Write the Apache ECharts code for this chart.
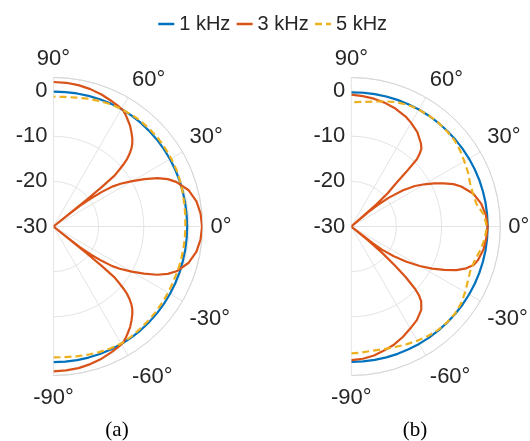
<!DOCTYPE html>
<html>
<head>
<meta charset="utf-8">
<script src="https://cdn.jsdelivr.net/npm/echarts@6/dist/echarts.min.js"></script>
<style>
html,body{margin:0;padding:0;background:#fff;}
#chart{width:530px;height:441px;}
</style>
</head>
<body>
<div id="chart"></div>
<script>
// ---- data (dB) ----
const seriesNames = ['1 kHz', '3 kHz', '5 kHz'];
const panelLabels = ['(a)', '(b)'];
const angleTicks = [-90, -60, -30, 0, 30, 60, 90];
const radiusTicks = [-30, -20, -10, 0];

const anglesCommon = [-90,-85,-80,-75,-70,-65,-60,-55,-50,-45,-40,-35,-30,-25,-20,-15,-10,-5,0,5,10,15,20,25,30,35,40,45,50,55,60,65,70,75,80,85,90];

// panel (a)
const db1kA = [0.05,0.05,0.05,0.05,0.05,0.05,0.05,0.03,0.0,-0.05,-0.1,-0.15,-0.2,-0.25,-0.3,-0.35,-0.38,-0.4,-0.4,-0.4,-0.38,-0.35,-0.3,-0.25,-0.2,-0.15,-0.1,-0.05,0.0,0.04,0.05,0.03,0.0,-0.04,-0.08,-0.12,-0.15];
const db5kA = [-1.0,-0.95,-0.8,-0.6,-0.4,-0.2,-0.05,-0.15,-0.3,-0.4,-0.5,-0.6,-0.7,-0.8,-0.8,-0.8,-0.8,-0.8,-0.8,-0.7,-0.6,-0.4,-0.2,0.0,0.1,0.2,0.3,0.3,0.3,0.2,0.05,-0.1,-0.4,-0.7,-1.0,-1.2,-1.25];
const angles3kA = [-90,-85,-80,-75,-70,-65,-62,-59.1,-57,-54.9,-52.7,-50.2,-48,-46.3,-45,-43.6,-42.5,-41.7,-41.1,-40.4,-39.8,-39.2,-39.0,-38.8,-38.5,-38,-37,-35.5,-34,-32.5,-30,-27.5,-25,-22.5,-20,-15,-10,-5,0,5,10,15,20,22.5,25,27.5,30,32.5,34,35.5,37,38,38.5,38.8,39.0,39.2,39.8,40.4,41.1,41.7,42.5,43.6,45,46.3,48,50.2,52.7,54.9,57,59.1,62,65,70,75,80,85,90];
const db3kA = [2.1,2.0,1.85,1.55,1.15,0.65,0.35,0.0,-0.6,-1.3,-2.0,-3.0,-3.9,-4.75,-5.6,-6.8,-7.9,-9.1,-10.2,-11.4,-12.5,-16.4,-20.5,-30,-25.5,-22.5,-19.8,-16.9,-14.3,-12.6,-10.0,-7.4,-4.7,-2.6,-1.0,1.0,2.15,2.7,2.9,2.7,2.15,1.0,-1.1,-2.6,-4.6,-7.3,-9.9,-12.4,-14.1,-16.7,-19.8,-22.5,-25.5,-30,-20.5,-16.4,-12.5,-11.4,-10.2,-9.1,-7.9,-6.8,-5.6,-4.75,-3.9,-3.0,-2.0,-1.3,-0.6,0.0,0.3,0.6,1.1,1.5,1.8,1.95,2.0];

// panel (b)
const db1kB = [0.0,0.0,0.0,0.0,0.01,0.02,0.03,0.04,0.05,0.06,0.08,0.1,0.12,0.14,0.16,0.18,0.2,0.2,0.2,0.2,0.2,0.18,0.16,0.13,0.1,0.06,0.03,0.0,-0.02,-0.05,-0.08,-0.12,-0.16,-0.2,-0.24,-0.27,-0.3];
const db5kB = [-1.9,-2.0,-2.1,-1.9,-1.6,-1.2,-0.8,-0.4,-0.1,0.0,0.0,-0.3,-0.9,-1.5,-1.9,-1.6,-0.9,-0.3,0.0,-0.5,-1.8,-2.1,-2.0,-1.5,-1.1,-0.6,-0.2,-0.1,0.0,0.0,-0.1,-0.3,-0.7,-1.3,-1.9,-2.3,-2.5];
const angles3kB = [-90,-85,-80,-75,-70,-65,-60,-55,-50,-47,-45.5,-44.4,-43,-41.8,-40.5,-39.5,-38.8,-38,-37,-35,-32.5,-30,-27.5,-25,-22.5,-20,-17.5,-15,-10,-5,0,5,10,15,20,22.5,25,27.5,30,32.5,35,37.5,39,40,40.5,41.3,42.5,43.9,44.8,45.7,46.8,48,50,55,60,63.3,70,75,80,85,90];
const db3kB = [-0.4,-0.6,-1.0,-1.6,-2.2,-3.0,-3.9,-4.7,-5.9,-7.3,-8.6,-10.2,-13.5,-16.9,-21,-25,-30,-24,-21.5,-18.5,-15.5,-12.5,-9.8,-7.3,-4.8,-2.9,-1.6,-1.0,-0.3,0.0,0.2,-0.1,-0.8,-2.0,-4.1,-5.5,-7.4,-9.3,-11.3,-13.3,-16.0,-19.5,-22.5,-25,-30,-22.5,-19,-16.5,-12.9,-9.2,-7.85,-6.8,-6.0,-4.5,-3.5,-2.9,-2.05,-1.6,-1.25,-1.0,-0.8];

// ---- styling ----
const colors = ['#0072BD', '#D95319', '#EDB120'];
const FONT = '"Liberation Sans", Arial, Helvetica, sans-serif';
const TXT = '#262626';
const GRID = '#e4e4e4';
const R_MAX = 3;
const RADIUS_PX = 149;

const pairs = (angles, vals) => angles.map((a, i) => [vals[i], a]);

const panels = [
  { k1: pairs(anglesCommon, db1kA), k3: pairs(angles3kA, db3kA), k5: pairs(anglesCommon, db5kA) },
  { k1: pairs(anglesCommon, db1kB), k3: pairs(angles3kB, db3kB), k5: pairs(anglesCommon, db5kB) }
];

const centers = [[53.5, 226.5], [351.3, 226.5]];
const captionPos = [[117, 430], [415, 430]];

const series = [];
panels.forEach((p, i) => {
  [p.k1, p.k3, p.k5].forEach((d, j) => {
    series.push({
      name: seriesNames[j],
      type: 'line',
      coordinateSystem: 'polar',
      polarIndex: i,
      data: d,
      symbol: 'none',
      smooth: false,
      lineStyle: { color: colors[j], width: 2.2, type: j === 2 ? [7, 4] : 'solid', join: 'round', cap: 'butt' },
      itemStyle: { color: colors[j] },
      z: 3 + j
    });
  });
});

const radiusLabelFmt = v => (radiusTicks.indexOf(v) >= 0 ? String(v) : '');

const option = {
  animation: false,
  backgroundColor: '#ffffff',
  legend: {
    data: seriesNames,
    top: 14,
    left: 157,
    itemWidth: 16,
    itemHeight: 2,
    itemGap: 5,
    padding: 0,
    itemStyle: { opacity: 0 },
    lineStyle: { width: 2.5 },
    textStyle: { fontSize: 20, color: TXT, fontFamily: FONT }
  },
  polar: centers.map(c => ({ center: c, radius: RADIUS_PX })),
  angleAxis: centers.map((c, i) => ({
    polarIndex: i,
    type: 'value',
    min: angleTicks[0],
    max: angleTicks[angleTicks.length - 1],
    interval: 30,
    startAngle: -90,
    endAngle: 90,
    clockwise: false,
    axisLine: { show: true, lineStyle: { color: '#d6d6d6', width: 1 } },
    axisTick: { show: false },
    splitLine: { show: true, lineStyle: { color: GRID, width: 1 } },
    axisLabel: { formatter: '{value}°', fontSize: 22, color: TXT, fontFamily: FONT, margin: 8, padding: [3, 0, 0, 0] }
  })),
  radiusAxis: centers.map((c, i) => ({
    polarIndex: i,
    type: 'value',
    min: radiusTicks[0],
    max: R_MAX,
    interval: 10,
    axisLine: { show: false },
    axisTick: { show: false },
    axisLabel: { show: false },
    splitLine: { show: true, lineStyle: { color: GRID, width: 1 } }
  })),
  // vertical value axes carrying the radial (dB) tick labels, on the same scale as the radius axes
  grid: centers.map(c => ({ left: c[0], top: c[1] - RADIUS_PX, width: 1, height: RADIUS_PX })),
  xAxis: centers.map((c, i) => ({ gridIndex: i, type: 'value', show: false })),
  yAxis: centers.map((c, i) => ({
    gridIndex: i,
    type: 'value',
    min: radiusTicks[0],
    max: R_MAX,
    interval: 10,
    axisLine: { show: false },
    axisTick: { show: false },
    splitLine: { show: false },
    axisLabel: { fontSize: 22, color: TXT, fontFamily: FONT, margin: 6, showMaxLabel: false, formatter: radiusLabelFmt }
  })),
  graphic: panelLabels.map((t, i) => ({
    type: 'text',
    x: captionPos[i][0],
    y: captionPos[i][1],
    style: {
      text: t,
      font: '21px "Liberation Serif", "Times New Roman", serif',
      fill: '#000',
      align: 'center',
      verticalAlign: 'middle',
      textAlign: 'center',
      textVerticalAlign: 'middle'
    }
  })),
  series: series
};

const chart = echarts.init(document.getElementById('chart'), null, { renderer: 'canvas' });
chart.setOption(option);
</script>
</body>
</html>
